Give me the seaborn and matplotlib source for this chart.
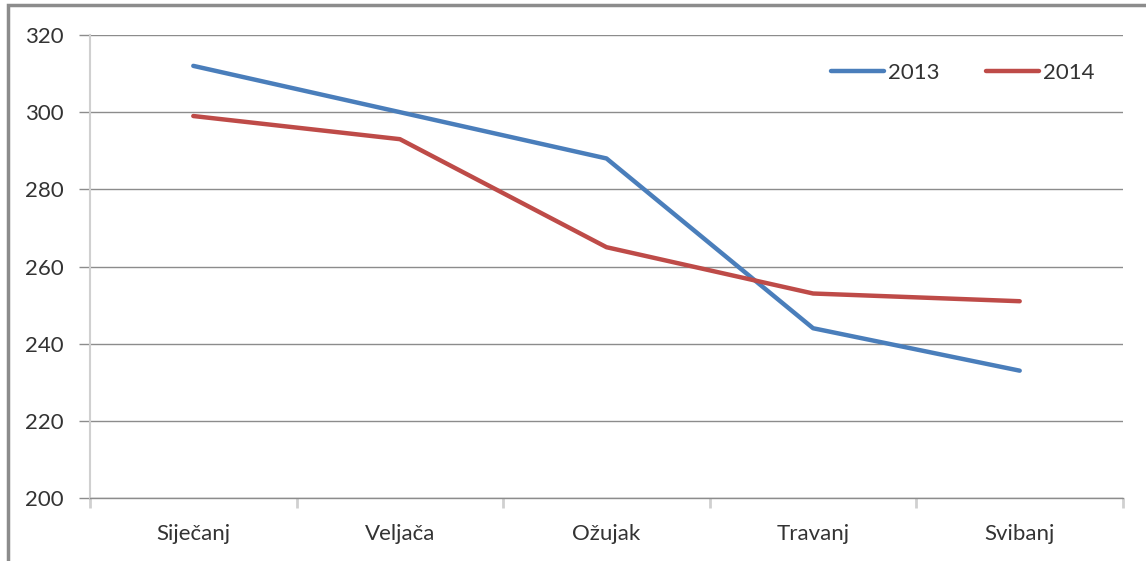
import matplotlib
matplotlib.use("Agg")
import matplotlib.pyplot as plt
import seaborn as sns
import pandas as pd
import numpy as np
from matplotlib.patches import Rectangle

months = ["Siječanj", "Veljača", "Ožujak", "Travanj", "Svibanj"]
years = ["2013", "2014"]
values_2013 = [312, 300, 288, 244, 233]
values_2014 = [299, 293, 265, 253, 251]
yticks = [200, 220, 240, 260, 280, 300, 320]
colors = ["#4a7ebb", "#be4b48"]

df = pd.DataFrame({
    "mjesec": months * 2,
    "godina": [years[0]] * len(months) + [years[1]] * len(months),
    "vrijednost": values_2013 + values_2014,
})

sns.set_style("white")
plt.rcParams["font.family"] = ["Lato", "DejaVu Sans"]

fig = plt.figure(figsize=(11.46, 5.61), dpi=100)
ax = fig.add_axes([90 / 1146, 1 - 498 / 561, (1123 - 90) / 1146, (498 - 35) / 561])

sns.lineplot(data=df, x="mjesec", y="vrijednost", hue="godina", palette=colors,
             linewidth=3.2, sort=False, ax=ax)

ax.set_xlim(-0.5, len(months) - 0.5)
ax.set_ylim(yticks[0], yticks[-1])
ax.set_yticks(yticks)
ax.yaxis.grid(True, color="#8c8c8c", linewidth=1)
ax.set_axisbelow(True)
ax.set_xlabel("")
ax.set_ylabel("")

for s in ["top", "right"]:
    ax.spines[s].set_visible(False)
ax.spines["left"].set_color("#d0d0d0")
ax.spines["left"].set_linewidth(1.5)
ax.spines["bottom"].set_color("#8c8c8c")
ax.spines["bottom"].set_linewidth(1)

ax.tick_params(axis="y", which="major", length=8, width=1, color="#8c8c8c",
               labelsize=16, labelcolor="#333333", pad=11, left=True)
ax.tick_params(axis="x", which="major", length=0, labelsize=16, labelcolor="#333333", pad=19)
ax.set_xticks(np.arange(-0.5, len(months), 1.0), minor=True)
ax.tick_params(axis="x", which="minor", length=7, width=2, color="#d0d0d0", bottom=True)

leg = ax.legend(ncol=2, frameon=False, fontsize=16, loc="center right",
                bbox_to_anchor=(0.972, 0.918), borderpad=0, borderaxespad=0,
                handlelength=2.4, handletextpad=0.15, columnspacing=2.1,
                labelcolor="#333333")

fig.add_artist(Rectangle((8 / 1146, -0.1), 1.2, 1 - 5 / 561 + 0.1, transform=fig.transFigure,
                         fill=False, edgecolor="#8c8c8c", linewidth=2.5))

fig.savefig("out.png", dpi=100)
